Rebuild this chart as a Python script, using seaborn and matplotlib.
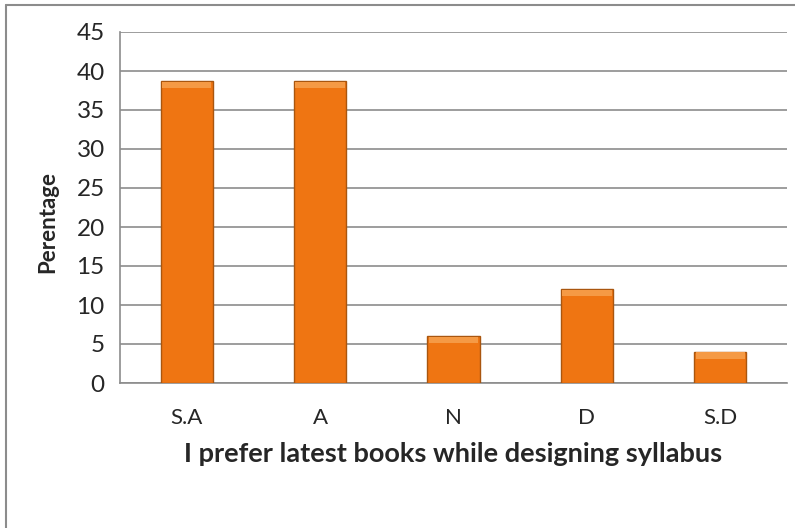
import matplotlib
matplotlib.use("Agg")
import matplotlib.pyplot as plt
import matplotlib.lines as mlines
import pandas as pd
import seaborn as sns

categories = ["S.A", "A", "N", "D", "S.D"]
percentages = [38.7, 38.7, 6.0, 12.0, 4.0]
y_ticks = [0, 5, 10, 15, 20, 25, 30, 35, 40, 45]

sns.set_theme(style="white")
plt.rcParams["font.family"] = ["Lato", "DejaVu Sans"]

df = pd.DataFrame({"Response": categories, "Percentage": percentages})

fig = plt.figure(figsize=(7.95, 5.28), dpi=100)
ax = fig.add_axes([120 / 795, 1 - 383 / 528, 667 / 795, 351 / 528])

sns.barplot(data=df, x="Response", y="Percentage", color="#EF7512",
            saturation=1, width=0.39, edgecolor="#A9560F", linewidth=1.0,
            ax=ax, zorder=3)

# light top band to hint at the bevelled bars
for bar in ax.patches:
    x0, w, h = bar.get_x(), bar.get_width(), bar.get_height()
    ax.fill_between([x0 + 0.01, x0 + w - 0.01], h - 0.9, h - 0.05,
                    color="#F59A45", zorder=4, linewidth=0)

ax.set_ylim(0, 45)
ax.set_xlim(-0.5, len(categories) - 0.5)
ax.set_yticks(y_ticks)
ax.yaxis.grid(True, color="#8C8C8C", linewidth=1.2, zorder=0)
ax.set_axisbelow(True)

for side in ["top", "right"]:
    ax.spines[side].set_visible(False)
for side in ["left", "bottom"]:
    ax.spines[side].set_color("#8C8C8C")
    ax.spines[side].set_linewidth(1.2)

# category boundary ticks on the x axis
ax.set_xticks(range(len(categories)))
ax.set_xticklabels(categories, fontsize=16)
ax.set_xticks([i - 0.5 for i in range(len(categories) + 1)], minor=True)
ax.tick_params(axis="x", which="major", length=0, pad=18)
ax.tick_params(axis="x", which="minor", length=7, color="#8C8C8C", width=1.2)
ax.tick_params(axis="y", length=7, color="#8C8C8C", width=1.2, labelsize=17.5, pad=4)

ax.set_xlabel("I prefer latest books while designing syllabus", fontsize=19.5,
              fontweight="bold", labelpad=10)
ax.set_ylabel("Perentage", fontsize=16, fontweight="bold")
ax.yaxis.set_label_coords(-0.093, 0.46)

# chart frame (left and top edges visible in the reference)
fig.add_artist(mlines.Line2D([6 / 795, 6 / 795], [0, 1 - 5 / 528],
                             color="#8C8C8C", linewidth=1.5))
fig.add_artist(mlines.Line2D([6 / 795, 1], [1 - 5 / 528, 1 - 5 / 528],
                             color="#8C8C8C", linewidth=1.5))

fig.savefig("out.png", dpi=100)
